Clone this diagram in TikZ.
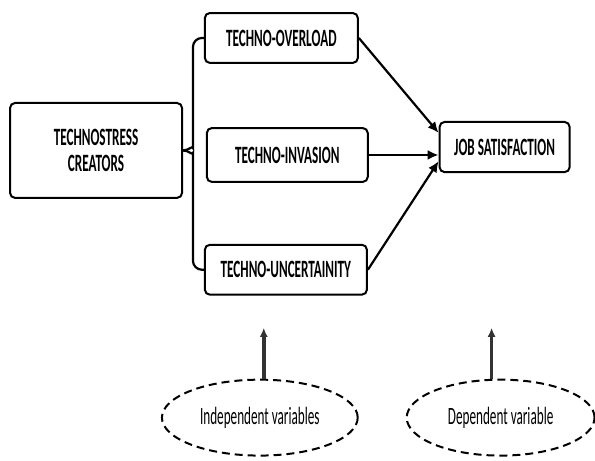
\documentclass[tikz,border=0pt]{standalone}
\usepackage{fontspec}
\setmainfont{Carlito}[FakeStretch=0.53]
\usetikzlibrary{shapes.geometric,calc,arrows.meta}

\begin{document}
\begin{tikzpicture}[
  box/.style={draw, line width=2pt, rounded corners=5pt, fill=white, align=center, inner sep=0pt, font=\bfseries\fontsize{25}{27}\selectfont},
  link/.style={line width=2.2pt},
  var/.style={ellipse, draw, line width=2pt, dash pattern=on 8pt off 5pt, inner sep=0pt, font=\fontsize{25}{27}\selectfont},
  up/.style={line width=3.5pt, black!80, -{Latex[length=9pt,width=8pt]}}
]
\useasboundingbox (0,0) rectangle (21,16.26);

\node [box, minimum width=6.07cm, minimum height=3.35cm] (creators) at (3.39,10.95) {TECHNOSTRESS\\CREATORS};

\node [box, minimum width=5.40cm, minimum height=1.76cm] (overload) at (9.93,14.92) {TECHNO-OVERLOAD};
\node [box, minimum width=5.68cm, minimum height=1.90cm] (invasion) at (10.14,10.79) {TECHNO-INVASION};
\node [box, minimum width=5.72cm, minimum height=1.76cm] (uncert) at (10.09,6.74) {TECHNO-UNCERTAINITY};

\node [box, minimum width=4.59cm, minimum height=1.77cm] (job) at (17.81,11.07) {JOB SATISFACTION};

% brace from creators to the three boxes
\draw [link, rounded corners=9pt] (creators.east) to [out=0, in=-90] ++(0.35,0.4) |- (overload.west);
\draw [link, rounded corners=9pt] (creators.east) to [out=0, in=90] ++(0.35,-0.4) |- (uncert.west);

\draw [link, -{Latex[length=11pt,width=10pt]}] (overload.east) -- ($(job.west)+(0,0.5)$);
\draw [link, -{Latex[length=11pt,width=10pt]}] (invasion.east) -- (invasion.east -| job.west);
\draw [link, -{Latex[length=11pt,width=10pt]}] (uncert.east) -- ($(job.west)+(0,-0.5)$);

\node [var, minimum width=6.91cm, minimum height=2.68cm] (indep) at (9.17,1.52) {Independent variables};
\node [var, minimum width=6.63cm, minimum height=2.68cm] (dep) at (17.67,1.52) {Dependent variable};

\coordinate (indepTip) at (9.31,4.69);
\coordinate (depTip) at (17.35,4.69);
\draw [up] (indepTip |- indep.north) -- (indepTip);
\draw [up] (depTip |- dep.north) -- (depTip);
\end{tikzpicture}
\end{document}
